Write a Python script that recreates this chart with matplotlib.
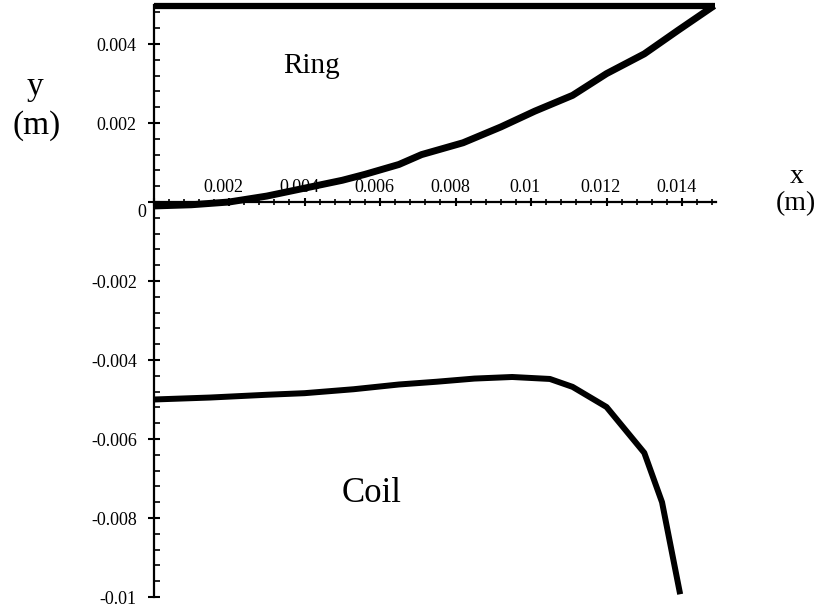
import matplotlib
matplotlib.use("Agg")
import matplotlib.pyplot as plt
from matplotlib.ticker import MultipleLocator, FuncFormatter
from matplotlib.transforms import ScaledTranslation

# --- Data (metres) ---
ring_x = [0.0, 0.001, 0.002, 0.003, 0.004, 0.005, 0.0056, 0.0065, 0.0071, 0.0082,
          0.0092, 0.0101, 0.0111, 0.0120, 0.0130, 0.0139, 0.01485]
ring_y = [-0.0001, -0.00007, 0.0, 0.00015, 0.00035, 0.00055, 0.0007, 0.00095, 0.0012,
          0.0015, 0.0019, 0.0023, 0.0027, 0.00325, 0.00375, 0.00435, 0.00497]
ring_top_x = [0.0, 0.01487]
ring_top_y = [0.00497, 0.00497]

coil_x = [0.0, 0.0015, 0.003, 0.004, 0.0053, 0.0065, 0.0075, 0.0085, 0.0095,
          0.0105, 0.0111, 0.0120, 0.0130, 0.01347, 0.01395]
coil_y = [-0.0050, -0.00495, -0.00488, -0.00484, -0.00474, -0.00462, -0.00455,
          -0.00447, -0.00443, -0.00448, -0.00468, -0.00519, -0.00635, -0.0076, -0.00993]

x_limits = (0.0, 0.0149)
y_limits = (-0.01, 0.005)

plt.rcParams['font.family'] = ['Liberation Serif', 'DejaVu Serif']

fig = plt.figure(figsize=(8.25, 6.09), dpi=100)
ax = fig.add_axes([0.1861, 0.0197, 0.6818, 0.9729])

ax.plot(ring_top_x, ring_top_y, color='black', lw=4.5, solid_capstyle='butt', clip_on=False)
ax.plot(ring_x, ring_y, color='black', lw=5, solid_capstyle='butt', clip_on=False)
ax.plot(coil_x, coil_y, color='black', lw=4.3, solid_capstyle='butt', clip_on=False)

ax.set_xlim(*x_limits)
ax.set_ylim(*y_limits)

# --- Maple-style axes crossing at the origin ---
ax.spines['bottom'].set_visible(False)
ax.spines['right'].set_visible(False)
ax.spines['top'].set_position(('data', 0))
ax.spines['left'].set_position(('data', 0))
for s in ('top', 'left'):
    ax.spines[s].set_linewidth(1.6)
ax.xaxis.tick_top()
ax.set_facecolor('none')


def fmt(v, pos):
    v = round(v, 6)
    if abs(v) < 1e-12:
        return ''
    return f'{v:g}'


ax.xaxis.set_major_locator(MultipleLocator(0.002))
ax.xaxis.set_minor_locator(MultipleLocator(0.0004))
ax.yaxis.set_major_locator(MultipleLocator(0.002))
ax.yaxis.set_minor_locator(MultipleLocator(0.0004))
ax.xaxis.set_major_formatter(FuncFormatter(fmt))
ax.yaxis.set_major_formatter(FuncFormatter(fmt))

ax.tick_params(axis='x', which='major', direction='inout', length=6, width=1.5,
               labelsize=13, pad=1.5)
ax.tick_params(axis='x', which='minor', direction='inout', length=4, width=1.2)
ax.tick_params(axis='y', which='major', direction='inout', length=8, width=1.5,
               labelsize=13, pad=8)
ax.tick_params(axis='y', which='minor', direction='in', length=4, width=1.2)

# x tick labels sit slightly left of their ticks
fig.canvas.draw()
shift = ScaledTranslation(-4 / 72, 0, fig.dpi_scale_trans)
for lab in ax.xaxis.get_majorticklabels():
    lab.set_transform(lab.get_transform() + shift)

# the "0" label sits just below the x-axis
ax.annotate('0', xy=(0, 0), xytext=(-5.4, -7.9), textcoords='offset points',
            ha='right', va='center', fontsize=13)

# --- Axis titles and region labels ---
fig.text(35 / 825, 1 - 95 / 609, 'y', ha='center', va='baseline', fontsize=24)
fig.text(37 / 825, 1 - 134 / 609, '(m)', ha='center', va='baseline', fontsize=24)
fig.text(797 / 825, 1 - 183 / 609, 'x', ha='center', va='baseline', fontsize=20)
fig.text(796 / 825, 1 - 210 / 609, '(m)', ha='center', va='baseline', fontsize=20)
fig.text(283 / 825, 1 - 73 / 609, 'Ring', ha='left', va='baseline', fontsize=21)
fig.text(342 / 825, 1 - 502 / 609, 'Coil', ha='left', va='baseline', fontsize=25)

fig.savefig('out.png', dpi=100)
